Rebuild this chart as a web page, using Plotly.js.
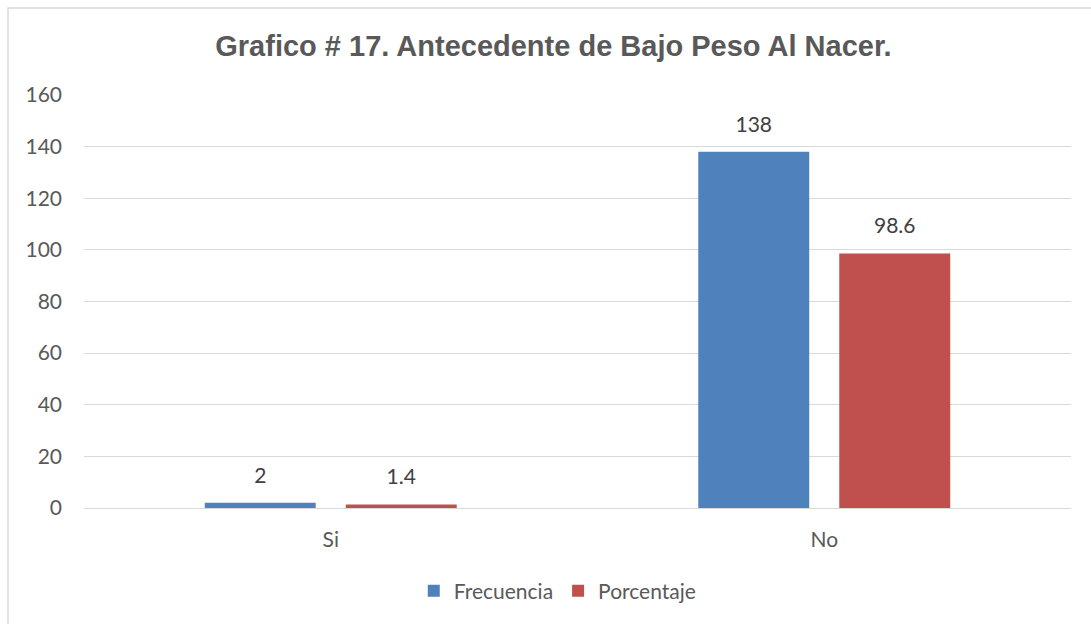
<!DOCTYPE html>
<html>
<head>
<meta charset="utf-8">
<script src="https://cdn.plot.ly/plotly-3.0.1.min.js"></script>
<style>html,body{margin:0;padding:0;background:#fff;}#chart{width:1091px;height:624px;}</style>
</head>
<body>
<div id="chart"></div>
<script>
var categories = ["Si", "No"];
var frecuencia = [2, 138];
var porcentaje = [1.4, 98.6];
var seriesNames = ["Frecuencia", "Porcentaje"];
var titleText = "Grafico # 17. Antecedente de Bajo Peso Al Nacer.";
var yTicks = [0, 20, 40, 60, 80, 100, 120, 140, 160];

var colors = ["#4F81BD", "#C0504D"];
var labelFont = {family: "Lato, 'Open Sans', sans-serif", size: 21, color: "#404040"};

var traces = [
  {type: "bar", name: seriesNames[0], x: categories, y: frecuencia, offsetgroup: "a",
   marker: {color: colors[0]}, hoverinfo: "none"},
  {type: "bar", name: seriesNames[1], x: categories, y: porcentaje, offsetgroup: "b",
   marker: {color: colors[1]}, hoverinfo: "none"},
  {type: "scatter", mode: "markers+text", x: categories, y: frecuencia, offsetgroup: "a",
   text: frecuencia.map(String), textposition: "top center", textfont: labelFont,
   marker: {size: 22, opacity: 0}, showlegend: false, cliponaxis: false, hoverinfo: "none"},
  {type: "scatter", mode: "markers+text", x: categories, y: porcentaje, offsetgroup: "b",
   text: porcentaje.map(String), textposition: "top center", textfont: labelFont,
   marker: {size: 22, opacity: 0}, showlegend: false, cliponaxis: false, hoverinfo: "none"}
];

var layout = {
  width: 1091, height: 624,
  margin: {l: 84, r: 20, t: 95, b: 116},
  paper_bgcolor: "#ffffff", plot_bgcolor: "#ffffff",
  barmode: "group", bargap: 0.4286, bargroupgap: 0.213,
  scattermode: "group", scattergap: 0.4286,
  title: {text: "<b>" + titleText + "</b>", x: 0.5073, xanchor: "center", y: 0.926, yanchor: "middle",
          font: {family: "'Liberation Sans', Arial, sans-serif", size: 29, color: "#595959"}},
  font: {family: "Lato, 'Open Sans', sans-serif", size: 21, color: "#595959"},
  xaxis: {type: "category", showgrid: false, showline: false, zeroline: false, ticks: "",
          ticklabelstandoff: 17, tickfont: {size: 21, color: "#595959"}, fixedrange: true},
  yaxis: {range: [0, 160], tickvals: yTicks, showgrid: true, gridcolor: "#d9d9d9", gridwidth: 1,
          zeroline: true, zerolinecolor: "#d9d9d9", zerolinewidth: 1, showline: false, ticks: "",
          ticklabelstandoff: 21, tickfont: {size: 21, color: "#595959"}, fixedrange: true},
  legend: {orientation: "h", x: 0.48, xanchor: "center", y: -0.201, yanchor: "middle",
           itemwidth: 30, font: {size: 21, color: "#595959"}, itemclick: false, traceorder: "normal"},
  shapes: [{type: "rect", xref: "paper", yref: "paper", x0: -0.077, x1: 1.1, y0: -0.6, y1: 1.2107,
            line: {color: "#d9d9d9", width: 1.5}, fillcolor: "rgba(0,0,0,0)", layer: "below"}],
  showlegend: true
};

Plotly.newPlot("chart", traces, layout, {displayModeBar: false, staticPlot: true});
</script>
</body>
</html>
